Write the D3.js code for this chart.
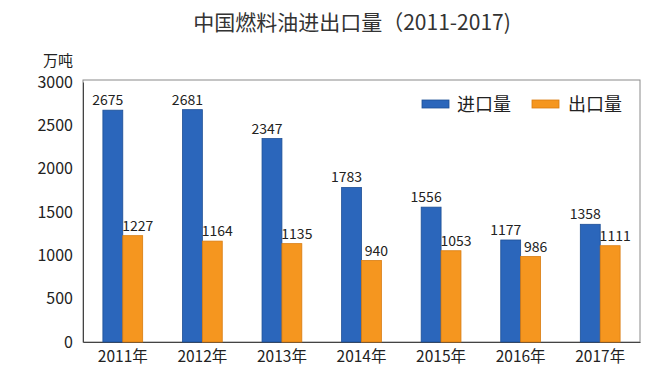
<!DOCTYPE html>
<html><head><meta charset="utf-8">
<script src="https://cdn.jsdelivr.net/npm/d3@7"></script>
<style>body{margin:0;background:#fff;} text{font-family:"Noto Sans CJK SC","DejaVu Sans",sans-serif;}</style>
</head><body>
<svg id="c" width="670" height="380"></svg>
<script>
const categories = ["2011年","2012年","2013年","2014年","2015年","2016年","2017年"];
const importVals = [2675,2681,2347,1783,1556,1177,1358];
const exportVals = [1227,1164,1135,940,1053,986,1111];
const seriesNames = ["进口量","出口量"];
const yTicks = [0,500,1000,1500,2000,2500,3000];
const colors = ["#2b66bb","#f5961f"];
const strokes = ["#1d4f96","#d97c10"];
const numFont = "DejaVu Sans Condensed, DejaVu Sans, sans-serif";

const svg = d3.select("#c");
const m = {l:83, r:640, t:80, b:342};
const x = d3.scaleBand().domain(categories).range([m.l, m.r]).paddingInner(0.5).paddingOuter(0.25);
const xs = d3.scaleBand().domain([0,1]).range([0, x.bandwidth()]);
const y = d3.scaleLinear().domain([0,3000]).range([m.b, m.t+2]);

// frame
svg.append("rect").attr("x",m.l).attr("y",m.t).attr("width",m.r-m.l).attr("height",m.b-m.t)
  .attr("fill","none").attr("stroke","#8a8a8a").attr("stroke-width",1);

// title
svg.append("text").attr("x",352).attr("y",30).attr("text-anchor","middle")
  .attr("font-size",21).attr("fill","#333").text("中国燃料油进出口量（2011-2017)");
svg.append("text").attr("x",73).attr("y",66).attr("text-anchor","end")
  .attr("font-size",15).attr("fill","#222").text("万吨");

// y axis
const ya = svg.append("g").attr("transform",`translate(${m.l},0)`)
  .call(d3.axisLeft(y).tickValues(yTicks).tickSize(0).tickPadding(10).tickFormat(d3.format("d")));
ya.select(".domain").attr("stroke","#444");
ya.selectAll("text").attr("font-size",16).attr("fill","#222").attr("font-family",numFont);

// x axis
const xa = svg.append("g").attr("transform",`translate(0,${m.b})`)
  .call(d3.axisBottom(x).tickSize(0).tickPadding(9));
xa.select(".domain").attr("stroke","#444");
xa.selectAll("text").attr("font-size",15.5).attr("fill","#222");

const data = [importVals, exportVals];
data.forEach((vals,si)=>{
  svg.append("g").selectAll("rect").data(vals).join("rect")
    .attr("x",(d,i)=>x(categories[i])+xs(si))
    .attr("y",d=>y(d))
    .attr("width",xs.bandwidth())
    .attr("height",d=>m.b-y(d))
    .attr("fill",colors[si]).attr("stroke",strokes[si]).attr("stroke-width",0.8);
  svg.append("g").selectAll("text").data(vals).join("text")
    .attr("x",(d,i)=>x(categories[i])+xs(si)+xs.bandwidth()/2 + (si===1?5:-5))
    .attr("y",d=>y(d)-5)
    .attr("text-anchor","middle").attr("font-size",14).attr("fill","#222")
    .attr("font-family",numFont)
    .text(d=>d);
});

// legend
const lg = [{x:422,tx:457},{x:532,tx:568}];
lg.forEach((p,i)=>{
  svg.append("rect").attr("x",p.x).attr("y",100).attr("width",27).attr("height",8)
    .attr("fill",colors[i]).attr("stroke",strokes[i]).attr("stroke-width",0.8);
  svg.append("text").attr("x",p.tx).attr("y",111).attr("font-size",18).attr("fill","#222").text(seriesNames[i]);
});
</script>
</body></html>
